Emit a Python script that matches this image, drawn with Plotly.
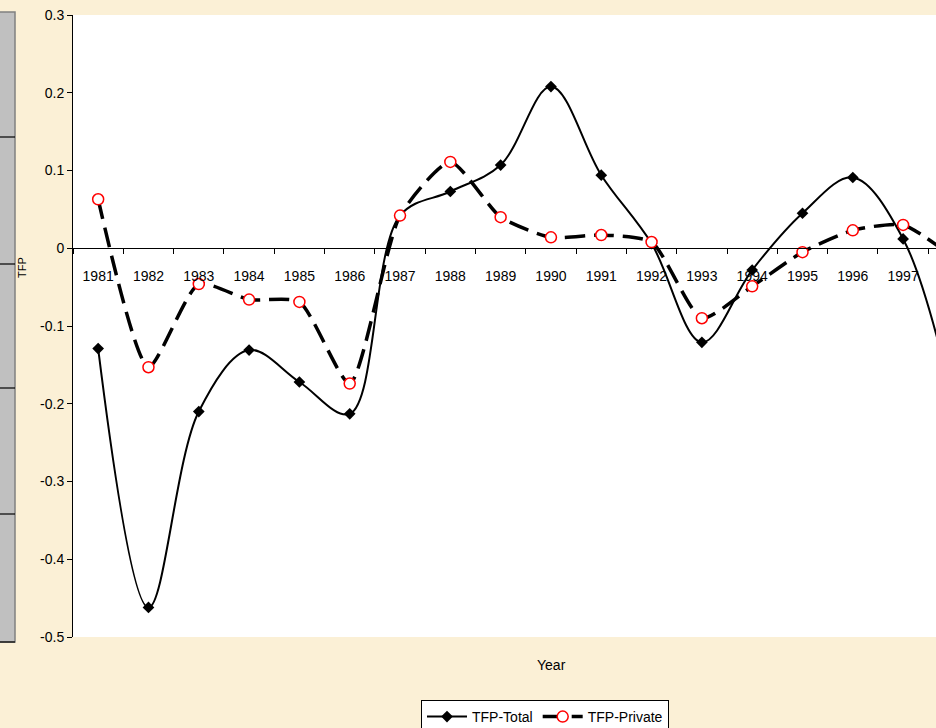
import plotly.graph_objects as go

years = [str(y) for y in range(1981, 1999)]
tfp_total = [-0.129, -0.462, -0.210, -0.131, -0.172, -0.213, 0.042, 0.073, 0.107,
             0.208, 0.094, 0.006, -0.121, -0.028, 0.045, 0.091, 0.012, -0.200]
tfp_private = [0.063, -0.153, -0.046, -0.066, -0.069, -0.174, 0.042, 0.111, 0.040,
               0.014, 0.017, 0.008, -0.090, -0.049, -0.005, 0.023, 0.030, -0.012]
y_ticks = [-0.5, -0.4, -0.3, -0.2, -0.1, 0, 0.1, 0.2, 0.3]
y_ticktext = ["-0.5", "-0.4", "-0.3", "-0.2", "-0.1", "0", "0.1", "0.2", "0.3"]

W, H = 936, 740
L, T, B = 73, 15, 637
PW, PH = W - L, B - T


def px(x):
    return (x - L) / PW


def py(y):
    return (B - y) / PH


FONT = "Liberation Sans, Arial, sans-serif"

fig = go.Figure()
fig.add_trace(go.Scatter(
    x=years, y=tfp_total, name="TFP-Total", mode="lines+markers",
    line=dict(color="black", width=2, shape="spline", smoothing=1),
    marker=dict(symbol="diamond", size=9, color="black"),
))
fig.add_trace(go.Scatter(
    x=years, y=tfp_private, name="TFP-Private", mode="lines+markers",
    line=dict(color="black", width=3.5, dash="20px,9px", shape="spline", smoothing=0.6),
    marker=dict(symbol="circle", size=11, color="white", line=dict(color="red", width=1.5)),
))

spacing = 50.31
fig.update_xaxes(
    type="category", range=[-0.5, -0.5 + PW / spacing],
    anchor="free", position=0.625,
    showline=True, linecolor="black", linewidth=1,
    ticks="outside", tickson="boundaries", ticklen=5, tickcolor="black",
    ticklabelstandoff=15,
    showgrid=False, zeroline=False,
    tickfont=dict(family=FONT, size=14, color="black"),
)
fig.update_yaxes(
    range=[-0.5, 0.3], tickvals=y_ticks, ticktext=y_ticktext,
    showline=True, linecolor="black", linewidth=1,
    ticks="outside", ticklen=5, tickcolor="black",
    showgrid=False, zeroline=False,
    tickfont=dict(family=FONT, size=14, color="black"),
)

shapes = []
# left gray panel
shapes.append(dict(type="rect", xref="paper", yref="paper",
                   x0=px(-2), x1=px(15), y0=py(642), y1=py(12),
                   fillcolor="#C0C0C0", line=dict(color="#808080", width=1.5), layer="below"))
for yy in [137, 264, 388, 514, 642]:
    shapes.append(dict(type="line", xref="paper", yref="paper",
                       x0=px(-2), x1=px(15), y0=py(yy), y1=py(yy),
                       line=dict(color="black", width=1.2)))

fig.update_layout(
    width=W, height=H,
    margin=dict(l=L, r=0, t=T, b=H - B, pad=0),
    paper_bgcolor="#FBF0D6", plot_bgcolor="white",
    shapes=shapes,
    showlegend=True,
    legend=dict(orientation="h", x=px(421), y=py(700), xanchor="left", yanchor="top",
                bgcolor="white", bordercolor="black", borderwidth=1,
                font=dict(family=FONT, size=14, color="black"),
                itemwidth=40, tracegroupgap=0),
    annotations=[
        dict(text="Year", xref="paper", yref="paper", x=px(551), y=py(665),
             showarrow=False, font=dict(family=FONT, size=14, color="black"),
             xanchor="center", yanchor="middle"),
        dict(text="TFP", xref="paper", yref="paper", x=px(22), y=py(268),
             showarrow=False, textangle=-90, font=dict(family=FONT, size=11, color="black"),
             xanchor="center", yanchor="middle"),
    ],
)

fig.write_html("out.html", config={"displayModeBar": False},
               post_script="document.body.style.margin='0px';document.body.style.overflow='hidden';")
